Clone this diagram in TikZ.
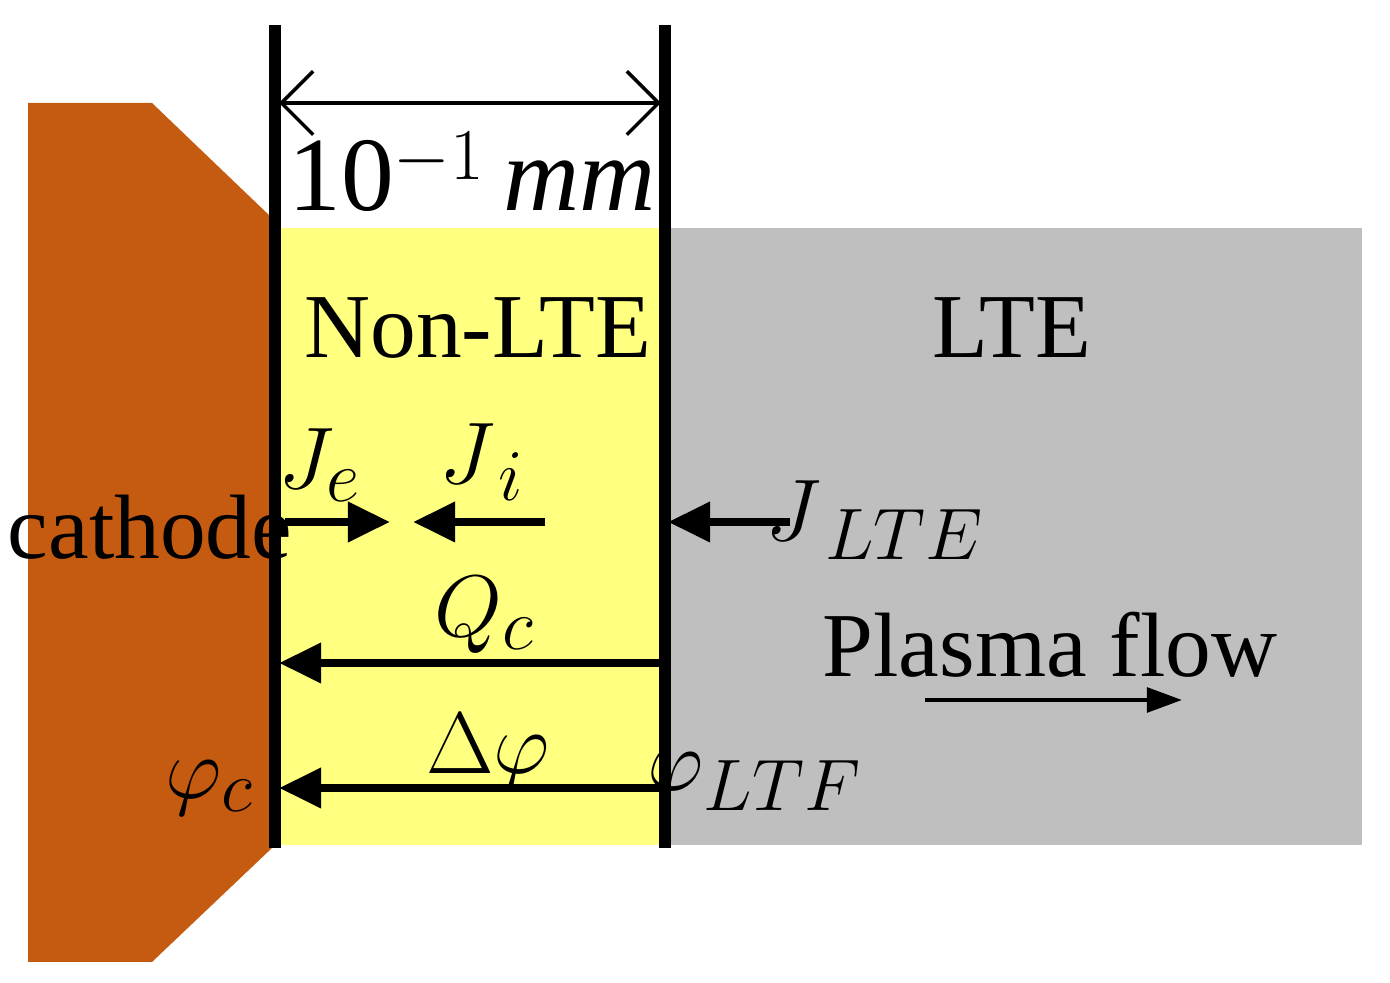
\documentclass[tikz,border=0pt]{standalone}
\usepackage{fontspec}
\setmainfont{Liberation Serif}
\usetikzlibrary{arrows.meta}
\begin{document}
\begin{tikzpicture}[x=0.01cm,y=-0.01cm,
  wall/.style={line width=3.2pt},
  flux/.style={line width=2.4pt,-{Triangle[length=12pt,width=11pt]}},
  thin/.style={line width=1.2pt,-{Triangle[length=10pt,width=7pt]}},
  lab/.style={font=\fontsize{26}{30}\selectfont,inner sep=0pt},
  mlab/.style={font=\fontsize{30}{34}\selectfont,inner sep=0pt}]
\useasboundingbox (0,0) rectangle (1390,983);
\definecolor{cath}{HTML}{C55A11}
\definecolor{yel}{HTML}{FFFF80}
\definecolor{gr}{HTML}{BFBFBF}
\fill[cath] (28,103) -- (152,103) -- (272,218) -- (272,848) -- (152,962) -- (28,962) -- cycle;
\fill[yel] (275,228) rectangle (665,845);
\fill[gr] (665,228) rectangle (1362,845);
\coordinate (lt) at (275,25); \coordinate (lb) at (275,848);
\coordinate (rt) at (665,25); \coordinate (rb) at (665,848);
\draw[wall] (lt) -- (lb);
\draw[wall] (rt) -- (rb);
\coordinate (d1) at (279,103); \coordinate (d2) at (661,103);
\draw[line width=1pt,{Straight Barb[length=9pt]}-{Straight Barb[length=9pt]}] (d1) -- (d2);
\node[mlab] (dim) at (472,172) {10$^{-1}$\,\textit{mm}};
\node[lab] (nonlte) at (478,328) {Non-LTE};
\node[lab] (lte) at (1012,328) {LTE};
\node[lab] (cathode) at (150,527) {cathode};
\node[lab] (plasma) at (1050,645) {Plasma flow};
\coordinate (je1) at (285,522); \coordinate (je2) at (390,522);
\draw[flux] (je1) -- (je2);
\coordinate (ji1) at (545,522); \coordinate (ji2) at (413,522);
\draw[flux] (ji1) -- (ji2);
\coordinate (jl1) at (790,522); \coordinate (jl2) at (668,522);
\draw[flux] (jl1) -- (jl2);
\coordinate (q1) at (661,663); \coordinate (q2) at (279,663);
\draw[flux] (q1) -- (q2);
\coordinate (p1) at (661,788); \coordinate (p2) at (279,788);
\draw[flux] (p1) -- (p2);
\coordinate (f1) at (925,700); \coordinate (f2) at (1182,700);
\draw[thin] (f1) -- (f2);
\node[mlab] (Je) at (320,465) {$J_{e}$};
\node[mlab] (Ji) at (482,462) {$J_{\,i}$};
\node[mlab] (Jl) at (875,520) {$J_{\,LTE}$};
\node[mlab] (Qc) at (485,615) {$Q_{c}$};
\node[lab] (dp) at (488,752) {$\Delta\varphi$};
\node[mlab] (pc) at (210,788) {$\varphi_{c}$};
\node[mlab] (pl) at (755,782) {$\varphi_{LTF}$};
\end{tikzpicture}
\end{document}
